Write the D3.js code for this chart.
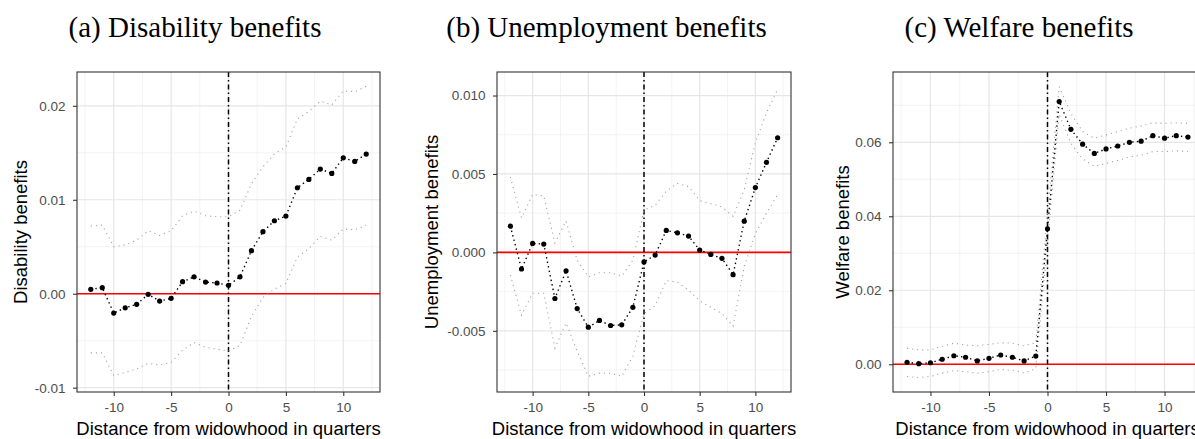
<!DOCTYPE html>
<html><head><meta charset="utf-8">
<script src="https://cdn.jsdelivr.net/npm/d3@7"></script>
<style>body{margin:0;background:#fff}svg{display:block}</style>
</head><body>
<svg id="chart" width="1195" height="439"></svg>
<script>
const quarters = [-12,-11,-10,-9,-8,-7,-6,-5,-4,-3,-2,-1,0,1,2,3,4,5,6,7,8,9,10,11,12];

const disabilityEst = [0.00047,0.00064,-0.00206,-0.0015,-0.00113,-0.00006,-0.00078,-0.00049,0.00128,0.0018,0.00124,0.00114,0.00089,0.0018,0.00458,0.0066,0.00777,0.00827,0.01128,0.01217,0.01327,0.0128,0.01447,0.01408,0.01486];
const disabilityUpper = [0.0072,0.0073,0.0050,0.0052,0.0057,0.0067,0.0062,0.0067,0.0083,0.0088,0.0083,0.0082,0.0082,0.0089,0.0117,0.0135,0.0149,0.0156,0.0186,0.0194,0.0205,0.0201,0.0216,0.0215,0.0221];
const disabilityLower = [-0.0063,-0.0063,-0.0087,-0.0084,-0.0080,-0.0074,-0.0076,-0.0073,-0.0060,-0.0052,-0.0057,-0.0059,-0.0061,-0.0055,-0.0024,-0.0004,0.0005,0.0011,0.0039,0.0048,0.0061,0.0057,0.0069,0.0068,0.0073];

const unemploymentEst = [0.00167,-0.00106,0.00057,0.00053,-0.00294,-0.00117,-0.00358,-0.00477,-0.00434,-0.00466,-0.00462,-0.0035,-0.00061,-0.00017,0.0014,0.00125,0.00104,0.00015,-0.00013,-0.00038,-0.00142,0.00199,0.00413,0.00574,0.00731];
const unemploymentUpper = [0.0048,0.0022,0.0037,0.0036,0.0006,0.0020,-0.0005,-0.00156,-0.0013,-0.0013,-0.0015,-0.0005,0.0027,0.0030,0.0039,0.0044,0.0042,0.0033,0.0031,0.0029,0.0023,0.0040,0.0070,0.0089,0.0104];
const unemploymentLower = [-0.00145,-0.0040,-0.0026,-0.0026,-0.0061,-0.0045,-0.0063,-0.0079,-0.0077,-0.0077,-0.0079,-0.0066,-0.0039,-0.0034,-0.0018,-0.0019,-0.0024,-0.0031,-0.0035,-0.0039,-0.0047,-0.0009,0.0012,0.0025,0.0037];

const welfareEst = [0.00054,0.00017,0.0004,0.00135,0.0023,0.0019,0.0009,0.0016,0.0025,0.0019,0.0009,0.0022,0.0366,0.0710,0.0635,0.0595,0.0570,0.0582,0.0590,0.0600,0.0603,0.0618,0.0611,0.0618,0.0614];
const welfareUpper = [0.0043,0.0039,0.0039,0.0048,0.0057,0.0052,0.0050,0.0054,0.0058,0.0057,0.0050,0.0058,0.0405,0.0750,0.0678,0.0629,0.0611,0.0620,0.0629,0.0638,0.0644,0.0653,0.0651,0.0653,0.0651];
const welfareLower = [-0.0033,-0.0036,-0.0033,-0.0024,-0.0017,-0.0020,-0.0024,-0.0020,-0.0014,-0.0016,-0.0024,-0.0012,0.0328,0.0675,0.0597,0.0555,0.0535,0.0543,0.0551,0.0560,0.0565,0.0575,0.0575,0.0577,0.0575];

const panelTitles = ["(a) Disability benefits","(b) Unemployment benefits","(c) Welfare benefits"];
const yAxisTitles = ["Disability benefits","Unemployment benefits","Welfare benefits"];
const xAxisTitle = "Distance from widowhood in quarters";
const xTickValues = [-10,-5,0,5,10];
const xMinorValues = [-12.5,-7.5,-2.5,2.5,7.5,12.5];
const disabilityTicks = [-0.01,0,0.01,0.02];
const disabilityTickLabels = ["-0.01","0.00","0.01","0.02"];
const disabilityMinor = [-0.005,0.005,0.015];
const unemploymentTicks = [-0.005,0,0.005,0.01];
const unemploymentTickLabels = ["-0.005","0.000","0.005","0.010"];
const unemploymentMinor = [-0.0075,-0.0025,0.0025,0.0075];
const welfareTicks = [0,0.02,0.04,0.06];
const welfareTickLabels = ["0.00","0.02","0.04","0.06"];
const welfareMinor = [0.01,0.03,0.05,0.07];

const panels = [
  {left:77, right:380, yDom:[-0.01046,0.0236], est:disabilityEst, up:disabilityUpper, lo:disabilityLower,
   ticks:disabilityTicks, labels:disabilityTickLabels, minor:disabilityMinor, titleX:195, yTitleX:27},
  {left:497, right:791, yDom:[-0.0089,0.0115], est:unemploymentEst, up:unemploymentUpper, lo:unemploymentLower,
   ticks:unemploymentTicks, labels:unemploymentTickLabels, minor:unemploymentMinor, titleX:606.5, yTitleX:438},
  {left:893, right:1202, yDom:[-0.0075,0.079], est:welfareEst, up:welfareUpper, lo:welfareLower,
   ticks:welfareTicks, labels:welfareTickLabels, minor:welfareMinor, titleX:1019, yTitleX:849}
];
const plotTop = 72, plotBottom = 392;
const svg = d3.select("#chart");
svg.append("rect").attr("width",1195).attr("height",439).attr("fill","#fff");

panels.forEach((p,i)=>{
  const x = d3.scaleLinear().domain([-13.2,13.2]).range([p.left,p.right]);
  const y = d3.scaleLinear().domain(p.yDom).range([plotBottom,plotTop]);
  const g = svg.append("g");
  g.selectAll(".vmin").data(xMinorValues.filter(v=>x(v)>p.left&&x(v)<p.right)).join("line")
    .attr("x1",d=>x(d)).attr("x2",d=>x(d)).attr("y1",plotTop).attr("y2",plotBottom)
    .attr("stroke","#f0f0f0").attr("stroke-width",0.8);
  g.selectAll(".hmin").data(p.minor.filter(v=>y(v)>plotTop&&y(v)<plotBottom)).join("line")
    .attr("x1",p.left).attr("x2",p.right).attr("y1",d=>y(d)).attr("y2",d=>y(d))
    .attr("stroke","#f0f0f0").attr("stroke-width",0.8);
  g.selectAll(".vmaj").data(xTickValues).join("line")
    .attr("x1",d=>x(d)).attr("x2",d=>x(d)).attr("y1",plotTop).attr("y2",plotBottom)
    .attr("stroke","#e6e6e6").attr("stroke-width",1.2);
  g.selectAll(".hmaj").data(p.ticks).join("line")
    .attr("x1",p.left).attr("x2",p.right).attr("y1",d=>y(d)).attr("y2",d=>y(d))
    .attr("stroke","#e6e6e6").attr("stroke-width",1.2);
  g.append("line").attr("x1",p.left).attr("x2",p.right).attr("y1",y(0)).attr("y2",y(0))
    .attr("stroke","#ff0000").attr("stroke-width",1.6);
  g.append("line").attr("x1",x(0)).attr("x2",x(0)).attr("y1",plotTop).attr("y2",plotBottom)
    .attr("stroke","#000").attr("stroke-width",1.5).attr("stroke-dasharray","5,3,1.5,3");
  const line = d3.line().x((d,j)=>x(quarters[j])).y(d=>y(d));
  [p.up,p.lo].forEach(arr=>{
    g.append("path").attr("d",line(arr)).attr("fill","none").attr("stroke","#a0a0a0")
      .attr("stroke-width",1.1).attr("stroke-dasharray","1.1,4");
  });
  g.append("path").attr("d",line(p.est)).attr("fill","none").attr("stroke","#000")
    .attr("stroke-width",1.4).attr("stroke-dasharray","1.4,3.2");
  g.selectAll(".pt").data(p.est).join("circle")
    .attr("cx",(d,j)=>x(quarters[j])).attr("cy",d=>y(d)).attr("r",2.6).attr("fill","#000");
  g.append("rect").attr("x",p.left).attr("y",plotTop).attr("width",p.right-p.left).attr("height",plotBottom-plotTop)
    .attr("fill","none").attr("stroke","#333").attr("stroke-width",1.1);
  const ya = svg.append("g").attr("transform",`translate(${p.left},0)`)
    .call(d3.axisLeft(y).tickValues(p.ticks).tickSize(4).tickPadding(7.5).tickFormat((d,j)=>p.labels[j]));
  const xa = svg.append("g").attr("transform",`translate(0,${plotBottom})`)
    .call(d3.axisBottom(x).tickValues(xTickValues).tickSize(4).tickPadding(6.5).tickFormat(d=>String(d)));
  [ya,xa].forEach(a=>{
    a.select(".domain").remove();
    a.selectAll(".tick line").attr("stroke","#333").attr("stroke-width",1.1);
    a.selectAll("text").attr("fill","#4d4d4d").style("font-family","'Liberation Sans', Arial, sans-serif").style("font-size","13.5px");
  });
  svg.append("text").attr("x",p.titleX).attr("y",37).attr("text-anchor","middle")
    .style("font-family","'Liberation Serif', 'Times New Roman', serif").style("font-size","29px")
    .attr("fill","#000").text(panelTitles[i]);
  svg.append("text").attr("x",(p.left+p.right)/2).attr("y",434.5).attr("text-anchor","middle")
    .style("font-family","'Liberation Sans', Arial, sans-serif").style("font-size","18.5px")
    .attr("fill","#000").text(xAxisTitle);
  svg.append("text").attr("transform",`translate(${p.yTitleX},${(plotTop+plotBottom)/2}) rotate(-90)`)
    .attr("text-anchor","middle")
    .style("font-family","'Liberation Sans', Arial, sans-serif").style("font-size","18.5px")
    .attr("fill","#000").text(yAxisTitles[i]);
});
</script>
</body></html>
